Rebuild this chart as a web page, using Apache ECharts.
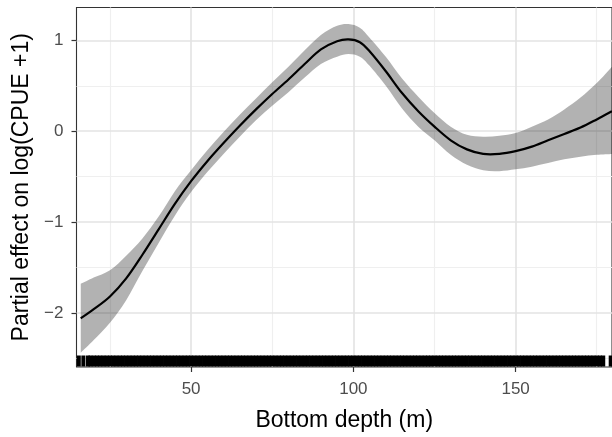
<!DOCTYPE html>
<html>
<head>
<meta charset="utf-8">
<title>Partial effect of bottom depth</title>
<script src="https://cdn.jsdelivr.net/npm/echarts@6/dist/echarts.min.js"></script>
<style>
  html, body { margin: 0; padding: 0; background: #fff; }
  #main { width: 612px; height: 437px; }
</style>
</head>
<body>
<div id="main"></div>
<script>
// smooth term (depth in m, effect on log scale)
var depth = [16, 20, 25, 30, 35, 40, 45, 50, 55, 60, 65, 70, 75, 80, 85, 90, 95, 98.5, 102, 105,
             110, 115, 120, 125, 130, 135, 140, 145, 150, 155, 160, 165, 170, 175, 179.7];
var fit   = [-2.06, -1.96, -1.82, -1.62, -1.36, -1.08, -0.80, -0.55, -0.33, -0.13, 0.06, 0.24, 0.41, 0.57, 0.74, 0.90, 0.99, 1.01, 0.98, 0.88,
             0.66, 0.42, 0.22, 0.05, -0.10, -0.20, -0.25, -0.25, -0.22, -0.17, -0.10, -0.03, 0.04, 0.13, 0.22];
var upper = [-1.68, -1.61, -1.53, -1.37, -1.18, -0.94, -0.66, -0.43, -0.21, -0.01, 0.18, 0.36, 0.54, 0.71, 0.89, 1.06, 1.16, 1.18, 1.14, 1.03,
             0.82, 0.58, 0.38, 0.20, 0.05, -0.04, -0.06, -0.05, -0.02, 0.05, 0.13, 0.24, 0.37, 0.53, 0.71];
var lower = [-2.44, -2.30, -2.11, -1.86, -1.54, -1.23, -0.93, -0.67, -0.45, -0.25, -0.06, 0.12, 0.28, 0.43, 0.59, 0.74, 0.82, 0.85, 0.82, 0.72,
             0.50, 0.25, 0.05, -0.10, -0.26, -0.37, -0.43, -0.44, -0.42, -0.39, -0.35, -0.31, -0.28, -0.26, -0.25];

// rug of observed depths
var rugDepth = [15.4, 16.8, 18.2,
  19, 20, 21, 22, 23, 24, 25, 26, 27, 28, 29, 30, 31, 32, 33, 34, 35, 36, 37, 38,
  39, 40, 41, 42, 43, 44, 45, 46, 47, 48, 49, 50, 51, 52, 53, 54, 55, 56, 57, 58,
  59, 60, 61, 62, 63, 64, 65, 66, 67, 68, 69, 70, 71, 72, 73, 74, 75, 76, 77, 78,
  79, 80, 81, 82, 83, 84, 85, 86, 87, 88, 89, 90, 91, 92, 93, 94, 95, 96, 97, 98,
  99, 100, 101, 102, 103, 104, 105, 106, 107, 108, 109, 110, 111, 112, 113, 114, 115, 116, 117, 118,
  119, 120, 121, 122, 123, 124, 125, 126, 127, 128, 129, 130, 131, 132, 133, 134, 135, 136, 137, 138,
  139, 140, 141, 142, 143, 144, 145, 146, 147, 148, 149, 150, 151, 152, 153, 154, 155, 156, 157, 158,
  159, 160, 161, 162, 163, 164, 165, 166, 167, 168, 169, 170, 171, 172, 173, 174, 175, 176, 177, 179.3];

var xTicks = [50, 100, 150];
var xMinor = [25, 75, 125, 175];
var yTicks = [-2, -1, 0, 1];
var yMinor = [-2.5, -1.5, -0.5, 0.5];

var X_MIN = 14.69, X_MAX = 179.7;
var Y_MIN = -2.596, Y_MAX = 1.362;

var FONT = '"Liberation Sans", Arial, Helvetica, sans-serif';

// catmull-rom style bezier segments through pixel points (no 'M')
var curveThrough = function(pts){
	var d = '';
	for (var i = 0; i < pts.length - 1; i++) {
		var p0 = pts[i - 1] || pts[i];
		var p1 = pts[i];
		var p2 = pts[i + 1];
		var p3 = pts[i + 2] || p2;
		var c1x = p1[0] + (p2[0] - p0[0]) / 6, c1y = p1[1] + (p2[1] - p0[1]) / 6;
		var c2x = p2[0] - (p3[0] - p1[0]) / 6, c2y = p2[1] - (p3[1] - p1[1]) / 6;
		d += ' C' + c1x + ',' + c1y + ' ' + c2x + ',' + c2y + ' ' + p2[0] + ',' + p2[1];
	}
	return d;
}

// map one of the value arrays to pixel points via the chart's scales
var toPixels = function(api, ys){
	var pts = [];
	for (var i = 0; i < depth.length; i++) {
		pts.push(api.coord([depth[i], ys[i]]));
	}
	return pts;
}

var rugData = [];
for (var i = 0; i < rugDepth.length; i++) {
	rugData.push([rugDepth[i], Y_MIN]);
}

// a silent twin axis only draws the minor grid lines
var minorAxis = function(values, extra){
	var ax = {
		type: 'value', interval: 25,
		axisLine: {show: false, onZero: false},
		axisTick: {show: false, customValues: values},
		axisLabel: {show: false, customValues: values},
		splitLine: {show: true, lineStyle: {color: '#efefef', width: 1.2}}
	};
	for (var k in extra) ax[k] = extra[k];
	return ax;
}

var chart = echarts.init(document.getElementById('main'), null, {renderer: 'canvas'});

var option = {
	animation: false,
	backgroundColor: '#fff',
	grid: {
		left: 76.5, right: -1, top: 7.5, bottom: 68.5,
		show: true, borderColor: '#333', borderWidth: 1.1, backgroundColor: 'transparent'
	},
	xAxis: [{
		type: 'value', min: X_MIN, max: X_MAX, interval: 25,
		name: 'Bottom depth (m)', nameLocation: 'middle', nameGap: 42,
		nameTextStyle: {color: '#000', fontSize: 23, fontFamily: FONT},
		axisLine: {show: false, onZero: false},
		axisTick: {show: true, length: 5, customValues: xTicks, lineStyle: {color: '#333', width: 1.2}},
		axisLabel: {customValues: xTicks, margin: 14, color: '#4d4d4d', fontSize: 17, fontFamily: FONT},
		splitLine: {show: true, lineStyle: {color: '#e3e3e3', width: 1.6}},
		z: 1
	}, minorAxis(xMinor, {min: X_MIN, max: X_MAX, position: 'bottom', z: 0})],
	yAxis: [{
		type: 'value', min: Y_MIN, max: Y_MAX, interval: 0.5,
		name: 'Partial effect on log(CPUE +1)', nameLocation: 'middle', nameGap: 42,
		nameTextStyle: {color: '#000', fontSize: 23, fontFamily: FONT},
		axisLine: {show: false, onZero: false},
		axisTick: {show: true, length: 5, customValues: yTicks, lineStyle: {color: '#333', width: 1.2}},
		axisLabel: {
			customValues: yTicks, margin: 13, color: '#4d4d4d', fontSize: 17, fontFamily: FONT,
			formatter: function(v){ return String(v).replace('-', '\u2212'); }
		},
		splitLine: {show: true, lineStyle: {color: '#e3e3e3', width: 1.6}},
		z: 1
	}, minorAxis(yMinor, {min: Y_MIN, max: Y_MAX, interval: 0.5, position: 'left', z: 0})],
	series: [
		{
			// confidence band: upper edge forward, lower edge back
			type: 'custom', data: [[depth[0], upper[0]]], encode: {x: 0, y: 1}, z: 2, silent: true,
			renderItem: function(params, api){
				var up = toPixels(api, upper);
				var lo = toPixels(api, lower).reverse();
				var d = 'M' + up[0][0] + ',' + up[0][1] + curveThrough(up)
					+ ' L' + lo[0][0] + ',' + lo[0][1] + curveThrough(lo) + ' Z';
				return {
					type: 'path',
					shape: {pathData: d},
					style: {fill: 'rgba(0,0,0,0.3)', stroke: null}
				};
			}
		},
		{
			// fitted smooth
			type: 'custom', data: [[depth[0], fit[0]]], encode: {x: 0, y: 1}, z: 3, silent: true,
			renderItem: function(params, api){
				var pts = toPixels(api, fit);
				return {
					type: 'path',
					shape: {pathData: 'M' + pts[0][0] + ',' + pts[0][1] + curveThrough(pts)},
					style: {fill: null, stroke: '#000', lineWidth: 2.2}
				};
			}
		},
		{
			type: 'custom', data: rugData, encode: {x: 0, y: 1}, z: 4, silent: true,
			renderItem: function(params, api){
				var p = api.coord([api.value(0), Y_MIN]);
				return {
					type: 'line',
					shape: {x1: p[0], y1: p[1] - 0.5, x2: p[0], y2: p[1] - 11.5},
					style: {stroke: '#000', lineWidth: 4}
				};
			}
		}
	]
};

chart.setOption(option);
</script>
</body>
</html>
